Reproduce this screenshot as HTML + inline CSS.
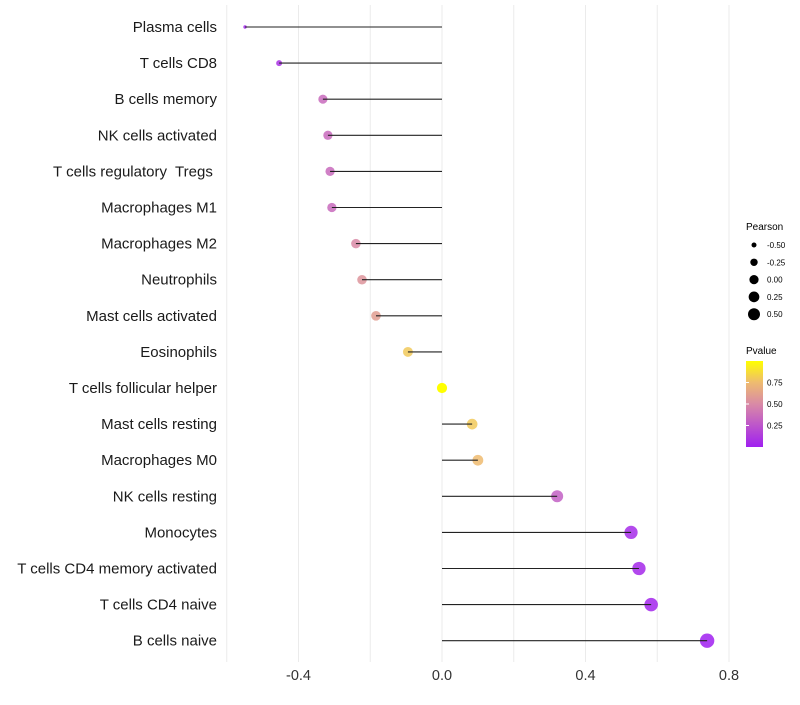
<!DOCTYPE html>
<html><head><meta charset="utf-8"><style>
body{margin:0;background:#fff;font-family:"Liberation Sans",sans-serif}
</style></head><body>
<svg id="chart" width="800" height="700">
<defs><linearGradient id="pg" x1="0" y1="1" x2="0" y2="0">
<stop offset="0" stop-color="#a020f0"/><stop offset="0.5" stop-color="#d98aa6"/><stop offset="0.75" stop-color="#eebb70"/><stop offset="1" stop-color="#ffff00"/></linearGradient></defs>
<g id="grid"></g><g id="dots"></g><g id="marks"></g><g id="labels"></g><g id="legend"></g>
</svg>
<script>
const categories=["Plasma cells","T cells CD8","B cells memory","NK cells activated","T cells regulatory  Tregs ","Macrophages M1","Macrophages M2","Neutrophils","Mast cells activated","Eosinophils","T cells follicular helper","Mast cells resting","Macrophages M0","NK cells resting","Monocytes","T cells CD4 memory activated","T cells CD4 naive","B cells naive"];
const pearson=[-0.549,-0.454,-0.332,-0.318,-0.312,-0.307,-0.240,-0.223,-0.184,-0.095,0.0,0.084,0.100,0.321,0.527,0.549,0.583,0.739];
const pvalue=[0.02,0.08,0.35,0.35,0.35,0.35,0.5,0.55,0.6,0.8,1.0,0.8,0.75,0.3,0.05,0.04,0.03,0.001];
const xTicks=[-0.4,0.0,0.4,0.8];
const gridVals=[-0.6,-0.4,-0.2,0,0.2,0.4,0.6,0.8];
const sizeLegend=[-0.5,-0.25,0.0,0.25,0.5];
const pTicks=[0.75,0.5,0.25];
const NS="http://www.w3.org/2000/svg";
const X=v=>442+v*358.75;
const Y=i=>27+i*36.1;
const sd=[-0.55,-0.33,0,0.74], sr=[1.7,4.6,5.1,7.2];
function R(v){if(v<=sd[0])return sr[0];for(let k=1;k<sd.length;k++){if(v<=sd[k]){const t=(v-sd[k-1])/(sd[k]-sd[k-1]);return sr[k-1]+(sr[k]-sr[k-1])*t;}}return sr[sr.length-1];}
const RL=v=>Math.sqrt(Math.max(1,21.1+29.75*v));
function col(p){const st=[[0,[160,32,240]],[0.5,[217,138,166]],[0.75,[238,187,112]],[1,[255,255,0]]];
for(let k=1;k<st.length;k++){if(p<=st[k][0]){const t=(p-st[k-1][0])/(st[k][0]-st[k-1][0]);const a=st[k-1][1],b=st[k][1];return`rgb(${a.map((c,j)=>Math.round(c+(b[j]-c)*t)).join(',')})`;}}return'rgb(255,255,0)';}
function mk(t,at,par){const e=document.createElementNS(NS,t);for(const k in at)e.setAttribute(k,at[k]);document.getElementById(par).appendChild(e);return e;}
gridVals.forEach(v=>{const l=mk('line',{x1:X(v),x2:X(v),y1:5,y2:662,stroke:'#ebebeb','stroke-width':1},'grid');

});
xTicks.forEach(v=>{const t=mk('text',{x:X(v),y:680,'text-anchor':'middle','font-size':14.5,fill:'#333'},'labels');t.textContent=v.toFixed(1);

});
categories.forEach((c,i)=>{
const d=mk('circle',{cx:X(pearson[i]),cy:Y(i),r:R(pearson[i]),fill:col(pvalue[i]),'fill-opacity':pvalue[i]>0.95?1:0.85},'dots');


const l=mk('line',{x1:X(0),x2:X(pearson[i]),y1:Y(i),y2:Y(i),stroke:'#222','stroke-width':1.1},'marks');


const t=mk('text',{x:217,y:Y(i)+5,'text-anchor':'end','font-size':15,fill:'#1a1a1a','xml:space':'preserve',style:'white-space:pre'},'labels');t.textContent=c;

});
let t=mk('text',{x:746,y:230,'font-size':10},'legend');t.textContent='Pearson';


sizeLegend.forEach((v,i)=>{const y=245+i*17.3;
const c=mk('circle',{cx:754,cy:y,r:RL(v),fill:'#000'},'legend');


const s=mk('text',{x:767,y:y+3,'font-size':8},'legend');s.textContent=v.toFixed(2);

});
t=mk('text',{x:746,y:354,'font-size':10},'legend');t.textContent='Pvalue';


const bar=mk('rect',{x:746,y:361,width:17,height:86,fill:'url(#pg)'},'legend');


pTicks.forEach(p=>{const y=447-p*86;
const s=mk('text',{x:767,y:y+3,'font-size':8},'legend');s.textContent=p.toFixed(2);


const l=mk('line',{x1:746,x2:749,y1:y,y2:y,stroke:'#fff'},'legend');

});
</script>
</body></html>
